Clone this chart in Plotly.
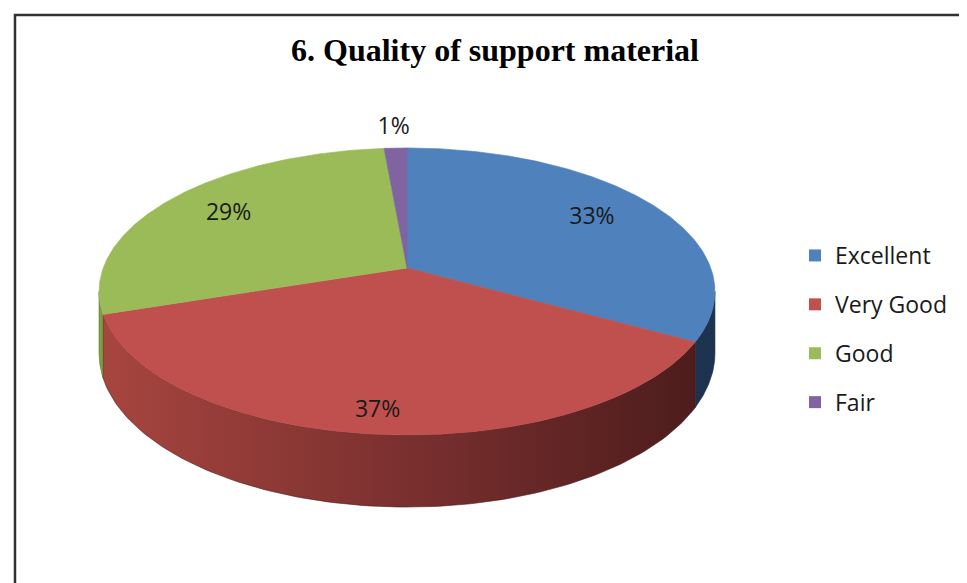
import numpy as np
import plotly.graph_objects as go

# ---- data ----
categories = ["Excellent", "Very Good", "Good", "Fair"]
values = [33.1, 36.8, 28.7, 1.4]
pct_labels = [f"{round(v / sum(values) * 100):.0f}%" for v in values]

# ---- style ----
top_colors = ["#4F81BD", "#C0504D", "#9BBB59", "#8064A2"]
side_scales = [
    [[0, "#2A4A70"], [1, "#1C324E"]],
    [[0, "#A8453F"], [0.5, "#7A302F"], [1, "#4A1B1B"]],
    [[0, "#7E9C44"], [1, "#5E7A2E"]],
    [[0, "#64508A"], [1, "#4A3A68"]],
]
label_r = [0.75, 0.88, 0.75, 1.2]

W, Hh = 967, 583
OX, OY = 8, 8               # page body margin
CX, CY = 407, 268           # pie apex on screen
A, B, K = 303.8, 139.7, 0.1638  # perspective ellipse parameters
DEPTH = 60.2

def px(x):
    return (x - OX) / W

def py(y):
    return 1 - (y - OY) / Hh

def proj(theta, r=1.0):
    u = r * np.sin(theta)
    v = r * np.cos(theta)
    d = 1 + K * v
    return CX + A * u / d, CY - B * v / d

def depth(theta):
    return DEPTH / (1 + K * np.cos(theta))

total = sum(values)
cum = np.concatenate([[0], np.cumsum(values)]) / total * 2 * np.pi
th_r = np.arccos(-K)
th_l = 2 * np.pi - th_r

fig = go.Figure()

# side walls
for i in range(len(values)):
    a, b = max(cum[i], th_r), min(cum[i + 1], th_l)
    if a >= b:
        continue
    t = np.linspace(a, b, 120)
    xt, yt = proj(t)
    yb = yt + depth(t)
    xs = np.concatenate([xt, xt[::-1], xt[:1]])
    ys = np.concatenate([yt, yb[::-1], yt[:1]])
    fig.add_trace(go.Scatter(
        x=xs, y=ys, mode="lines", fill="toself",
        line=dict(width=0.6, color=side_scales[i][-1][1]),
        fillgradient=dict(type="horizontal", colorscale=side_scales[i],
                          start=CX - A * 1.02, stop=CX + A * 1.02),
        hoverinfo="skip", showlegend=False))

# top faces
for i in range(len(values)):
    t = np.linspace(cum[i], cum[i + 1], max(4, int(values[i] * 8)))
    xt, yt = proj(t)
    xs = np.concatenate([[CX], xt, [CX]])
    ys = np.concatenate([[CY], yt, [CY]])
    fig.add_trace(go.Scatter(
        x=xs, y=ys, mode="lines", fill="toself", fillcolor=top_colors[i],
        line=dict(width=0.6, color=top_colors[i]),
        hoverinfo="skip", showlegend=False))

# labels
mids = (cum[:-1] + cum[1:]) / 2
lx, ly = [], []
for m, r in zip(mids, label_r):
    x, y = proj(m, r)
    lx.append(x)
    ly.append(y)
fig.add_trace(go.Scatter(
    x=lx, y=ly, mode="text", text=pct_labels,
    textfont=dict(family="Open Sans", size=23, color="#1a1a1a"),
    hoverinfo="skip", showlegend=False))

# legend entries
for i, c in enumerate(categories):
    fig.add_trace(go.Scatter(
        x=[None], y=[None], mode="markers", name=c, legendgroup=c,
        marker=dict(symbol="square", size=12, color=top_colors[i])))

fig.update_layout(
    width=W, height=Hh,
    margin=dict(l=0, r=0, t=0, b=0),
    paper_bgcolor="white", plot_bgcolor="white",
    xaxis=dict(range=[OX, OX + W], visible=False, fixedrange=True),
    yaxis=dict(range=[OY + Hh, OY], visible=False, fixedrange=True),
    showlegend=True,
    legend=dict(x=px(795), y=py(234), xanchor="left", yanchor="top",
                font=dict(family="Open Sans", size=23, color="#1a1a1a"),
                tracegroupgap=16, bgcolor="rgba(0,0,0,0)"),
    annotations=[dict(text="<b>6. Quality of support material</b>",
                      x=px(495), y=py(50), xref="paper", yref="paper",
                      showarrow=False, xanchor="center", yanchor="middle",
                      font=dict(family="Liberation Serif", size=32, color="black"))],
    shapes=[dict(type="rect", xref="paper", yref="paper",
                 x0=px(15), x1=1.05, y0=-0.05, y1=py(15),
                 line=dict(color="#303030", width=2.5))],
)

fig.write_html("out.html")
